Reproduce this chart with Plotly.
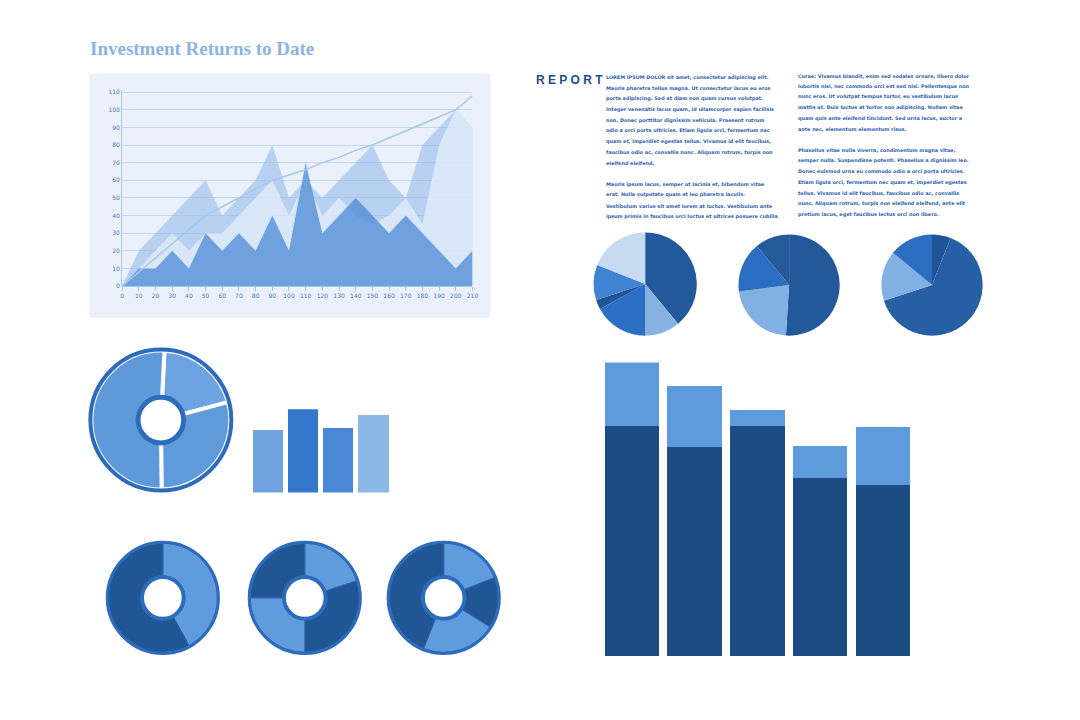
import plotly.graph_objects as go

# page has an 8px body margin; figure sized so the page fits 1080x720 exactly
W, H = 1064, 704
OFF = 8

# ---- data ----
x_vals = [0, 10, 20, 30, 40, 50, 60, 70, 80, 90, 100, 110, 120, 130, 140, 150, 160, 170, 180, 190, 200, 210]
back_series = [0, 20, 30, 40, 50, 60, 40, 50, 60, 80, 50, 60, 50, 60, 70, 80, 60, 50, 80, 90, 100, 90]
mid_series = [0, 10, 20, 30, 20, 30, 30, 40, 50, 60, 40, 60, 40, 50, 40, 35, 40, 50, 35, 80, 100, 90]
front_series = [0, 10, 10, 20, 10, 30, 20, 30, 20, 40, 20, 70, 30, 40, 50, 40, 30, 40, 30, 20, 10, 20]
trend_series = [0, 8, 16, 24, 32, 40, 45, 50, 55, 60, 63, 66, 70, 73, 77, 80, 84, 88, 92, 96, 100, 108]
y_ticks = [0, 10, 20, 30, 40, 50, 60, 70, 80, 90, 100, 110]

pie1_vals = [39, 11, 17, 3, 11, 19]
pie1_cols = ["#22599A", "#86B2E2", "#2C70C6", "#1F5596", "#3E84D2", "#C6DAF1"]
pie2_vals = [51, 22, 16, 11]
pie2_cols = ["#22599A", "#82B0E2", "#2B6DC0", "#24599A"]
pie3_vals = [6, 64, 16, 14]
pie3_cols = ["#1F5596", "#265FA3", "#82B0E2", "#2B6DC0"]

big_donut_vals = [20, 29, 51]
donut1_vals = [42, 58]
donut1_cols = ["#609CDD", "#215695"]
donut2_vals = [20, 30, 25, 25]
donut2_cols = ["#609CDD", "#215695", "#609CDD", "#215695"]
donut3_vals = [19, 15, 22, 44]
donut3_cols = ["#609CDD", "#215695", "#609CDD", "#215695"]

small_bar_vals = [63, 84, 65, 78]
small_bar_cols = ["#6FA3DF", "#3378CC", "#4A88D6", "#8CB8E8"]

stack_cats = ["A", "B", "C", "D", "E"]
stack_dark = [232, 211, 232, 180, 173]
stack_light = [64, 61, 16, 32, 58]

col1_lines = [
    "LOREM IPSUM DOLOR sit amet, consectetur adipiscing elit.",
    "Mauris pharetra tellus magna. Ut consectetur lacus eu eros",
    "porta adipiscing. Sed at diam non quam cursus volutpat.",
    "Integer venenatis lacus quam, id ullamcorper sapien facilisis",
    "non. Donec porttitor dignissim vehicula. Praesent rutrum",
    "odio a orci porta ultricies. Etiam ligula orci, fermentum nec",
    "quam et, imperdiet egestas tellus. Vivamus id elit faucibus,",
    "faucibus odio ac, convallis nunc. Aliquam rutrum, turpis non",
    "eleifend eleifend,",
    "",
    "Mauris ipsum lacus, semper ut lacinia et, bibendum vitae",
    "erat. Nulla vulputate quam et leo pharetra iaculis.",
    "Vestibulum varius sit amet lorem at luctus. Vestibulum ante",
    "ipsum primis in faucibus orci luctus et ultrices posuere cubilia",
]
col2_lines = [
    "Curae; Vivamus blandit, enim sed sodales ornare, libero dolor",
    "lobortis nisi, nec commodo orci est sed nisi. Pellentesque non",
    "nunc eros. Ut volutpat tempus tortor, eu vestibulum lacus",
    "mattis at. Duis luctus at tortor non adipiscing. Nullam vitae",
    "quam quis ante eleifend tincidunt. Sed urna lacus, auctor a",
    "ante nec, elementum elementum risus.",
    "",
    "Phasellus vitae nulla viverra, condimentum magna vitae,",
    "semper nulla. Suspendisse potenti. Phasellus a dignissim leo.",
    "Donec euismod urna eu commodo odio a orci porta ultricies.",
    "Etiam ligula orci, fermentum nec quam et, imperdiet egestas",
    "tellus. Vivamus id elit faucibus, faucibus odio ac, convallis",
    "nunc. Aliquam rutrum, turpis non eleifend eleifend, ante elit",
    "pretium lacus, eget faucibus lectus orci non libero.",
]


def px(x):
    return (x - OFF) / W


def py(y):
    return 1 - (y - OFF) / H


def dom(cx, cy, r):
    return dict(x=[px(cx - r), px(cx + r)], y=[py(cy + r), py(cy - r)])


fig = go.Figure()
shapes = []
annotations = []

# ---- area chart ----
shapes.append(dict(type="rect", xref="paper", yref="paper", x0=px(88), x1=px(492), y0=py(318), y1=py(72),
                   fillcolor="#EAF1FB", line=dict(width=0), layer="below"))
fig.add_trace(go.Scatter(x=x_vals, y=back_series, fill="tozeroy", mode="lines", line=dict(width=0),
                         fillcolor="rgba(150,188,235,0.6)", xaxis="x", yaxis="y", hoverinfo="skip"))
fig.add_trace(go.Scatter(x=x_vals, y=mid_series, fill="tozeroy", mode="lines", line=dict(width=0),
                         fillcolor="rgba(232,241,252,0.7)", xaxis="x", yaxis="y", hoverinfo="skip"))
fig.add_trace(go.Scatter(x=x_vals, y=front_series, fill="tozeroy", mode="lines", line=dict(width=0),
                         fillcolor="rgba(70,135,212,0.72)", xaxis="x", yaxis="y", hoverinfo="skip"))
fig.add_trace(go.Scatter(x=x_vals, y=trend_series, mode="lines", line=dict(color="#A9C7EE", width=1.5),
                         xaxis="x", yaxis="y", hoverinfo="skip"))

# ---- pies ----
for vals, cols, (cx, cy, r) in [(pie1_vals, pie1_cols, (648, 284, 52)),
                                (pie2_vals, pie2_cols, (793, 285, 51)),
                                (pie3_vals, pie3_cols, (937, 285, 51))]:
    fig.add_trace(go.Pie(values=vals, marker=dict(colors=cols, line=dict(width=0)), sort=False,
                         direction="clockwise", rotation=0, textinfo="none", domain=dom(cx, cy, r),
                         hoverinfo="skip"))

# ---- big donut ----
cx, cy, r = 160, 421, 70
fig.add_trace(go.Pie(values=big_donut_vals, marker=dict(colors=["#6CA3E0", "#5F9ADB", "#5E99DA"],
                                                        line=dict(color="white", width=4)),
                     sort=False, direction="clockwise", rotation=3, hole=0.33, textinfo="none",
                     domain=dom(cx, cy, r), hoverinfo="skip"))
shapes.append(dict(type="circle", xref="paper", yref="paper", x0=px(cx - r - 1), x1=px(cx + r + 1),
                   y0=py(cy + r + 1), y1=py(cy - r - 1), line=dict(color="#2D6CBC", width=4)))
shapes.append(dict(type="circle", xref="paper", yref="paper", x0=px(cx - 23), x1=px(cx + 23),
                   y0=py(cy + 23), y1=py(cy - 23), fillcolor="white", line=dict(color="#2D6CBC", width=5)))

# ---- bottom donuts ----
for vals, cols, (cx, cy, r) in [(donut1_vals, donut1_cols, (162, 600, 55)),
                                (donut2_vals, donut2_cols, (305, 600, 55)),
                                (donut3_vals, donut3_cols, (445, 600, 55))]:
    fig.add_trace(go.Pie(values=vals, marker=dict(colors=cols, line=dict(color="#2A64AE", width=1)),
                         sort=False, direction="clockwise", rotation=0, hole=0.4, textinfo="none",
                         domain=dom(cx, cy, r), hoverinfo="skip"))
    shapes.append(dict(type="circle", xref="paper", yref="paper", x0=px(cx - r - 1), x1=px(cx + r + 1),
                       y0=py(cy + r + 1), y1=py(cy - r - 1), line=dict(color="#2D6CBC", width=3)))
    shapes.append(dict(type="circle", xref="paper", yref="paper", x0=px(cx - 21), x1=px(cx + 21),
                       y0=py(cy + 21), y1=py(cy - 21), fillcolor="white", line=dict(color="#2D6CBC", width=4)))

# ---- small bars ----
fig.add_trace(go.Bar(x=[0, 1, 2, 3], y=small_bar_vals, marker=dict(color=small_bar_cols, line=dict(width=0)),
                     width=0.86, xaxis="x2", yaxis="y2", hoverinfo="skip"))

# ---- stacked bars ----
fig.add_trace(go.Bar(x=stack_cats, y=stack_dark, marker=dict(color="#1D4C82", line=dict(width=0)),
                     xaxis="x3", yaxis="y3", hoverinfo="skip"))
fig.add_trace(go.Bar(x=stack_cats, y=stack_light, marker=dict(color="#5D9BDD", line=dict(width=0)),
                     xaxis="x3", yaxis="y3", hoverinfo="skip"))

# ---- texts ----
annotations.append(dict(text="<b>Investment Returns to Date</b>", x=px(87), y=py(47), xref="paper", yref="paper",
                        xanchor="left", yanchor="middle", showarrow=False,
                        font=dict(family="Liberation Serif", size=19, color="#8AB4E6")))
annotations.append(dict(text="<b>R E P O R T</b>", x=px(536), y=py(78), xref="paper", yref="paper",
                        xanchor="left", yanchor="middle", showarrow=False,
                        font=dict(family="Liberation Sans", size=12, color="#1F4E8C")))
for lines, x0, y0 in [(col1_lines, 607, 76), (col2_lines, 800, 74)]:
    for i, t in enumerate(lines):
        if not t:
            continue
        annotations.append(dict(text="<b>" + t + "</b>", x=px(x0), y=py(y0 + i * 10.75), xref="paper",
                                yref="paper", xanchor="left", yanchor="middle", showarrow=False,
                                font=dict(family="DejaVu Sans", size=4.9, color="#2D62B0")))

fig.update_layout(
    width=W, height=H, margin=dict(l=0, r=0, t=0, b=0), paper_bgcolor="white", plot_bgcolor="rgba(0,0,0,0)",
    showlegend=False, barmode="stack", bargap=0.13,
    shapes=shapes, annotations=annotations,
    xaxis=dict(domain=[px(121), px(474)], range=[0, 210], tickvals=x_vals, showgrid=False, zeroline=False,
               ticks="outside", ticklen=4, tickcolor="#A9C7EE", showline=True, linecolor="#A9C7EE",
               tickfont=dict(size=6, color="#4A78B8", family="DejaVu Sans"), anchor="y"),
    yaxis=dict(domain=[py(286), py(89)], range=[0, 111], tickvals=y_ticks, showgrid=True, gridcolor="#C0D6F1",
               zeroline=False, showline=True, linecolor="#A9C7EE",
               tickfont=dict(size=6, color="#4A78B8", family="DejaVu Sans"), anchor="x"),
    xaxis2=dict(domain=[px(250), px(392)], range=[-0.5, 3.5], visible=False, anchor="y2"),
    yaxis2=dict(domain=[py(494), py(410)], range=[0, 84], visible=False, anchor="x2"),
    xaxis3=dict(domain=[px(603), px(919)], visible=False, anchor="y3"),
    yaxis3=dict(domain=[py(659), py(363)], range=[0, 296], visible=False, anchor="x3"),
)

fig.write_html("out.html")
